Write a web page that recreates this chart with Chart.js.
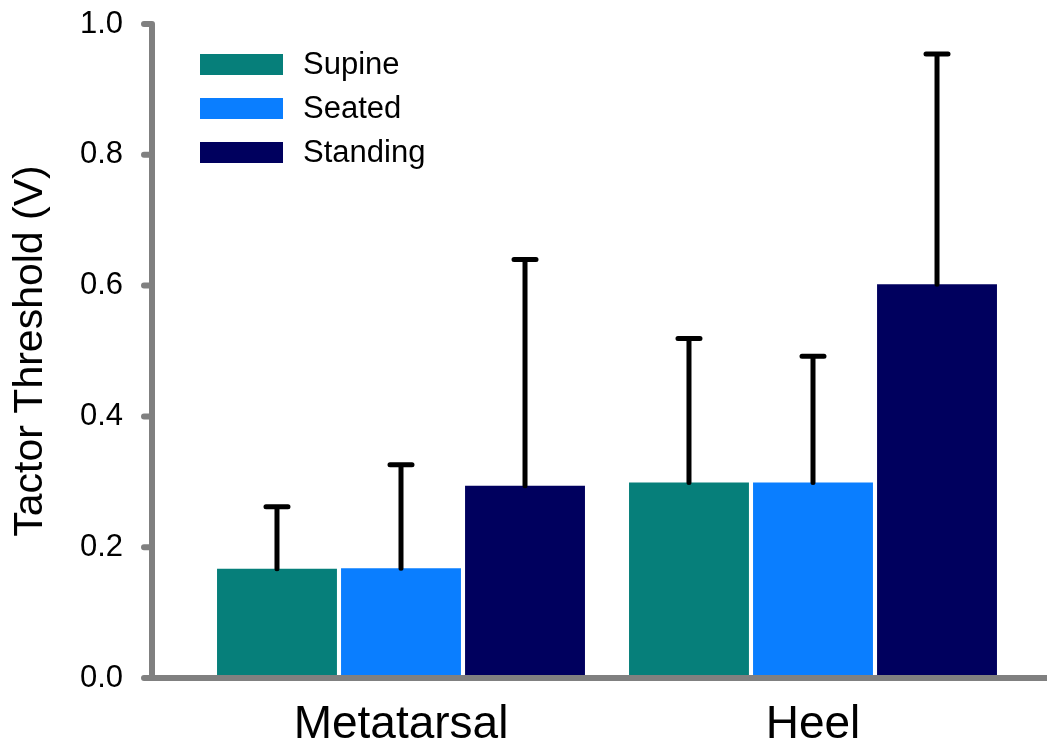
<!DOCTYPE html>
<html>
<head>
<meta charset="utf-8">
<script src="https://cdn.jsdelivr.net/npm/chart.js@4"></script>
<style>
  html, body { margin: 0; padding: 0; background: #fff; }
  #wrap { width: 1047px; height: 742px; }
</style>
</head>
<body>
<div id="wrap"><canvas id="chart" width="1047" height="742"></canvas></div>
<script>
// values
const sites = ['Metatarsal', 'Heel'];
const positions = ['Supine', 'Seated', 'Standing'];
const supine = [0.167, 0.299];
const seated = [0.168, 0.299];
const standing = [0.294, 0.602];
// upper error (SD) above each bar
const supineSD = [0.095, 0.220];
const seatedSD = [0.158, 0.193];
const standingSD = [0.346, 0.352];
const yTicks = [0, 0.2, 0.4, 0.6, 0.8, 1.0];

const colors = ['#067f7a', '#0a7eff', '#00005e'];
const axisGray = '#808080';
const FONT = 'Liberation Sans, Arial, sans-serif';

// error bars, only upward with a cap
const errorBars = {
  id: 'errorBars',
  afterDatasetsDraw(chart) {
    const ctx = chart.ctx;
    const y = chart.scales.y;
    ctx.save();
    ctx.strokeStyle = '#000';
    ctx.lineWidth = 5;
    ctx.lineCap = 'round';
    chart.data.datasets.forEach((ds, i) => {
      const meta = chart.getDatasetMeta(i);
      meta.data.forEach((bar, j) => {
        const top = y.getPixelForValue(ds.data[j] + ds.sd[j]);
        ctx.beginPath();
        ctx.moveTo(bar.x, bar.y);
        ctx.lineTo(bar.x, top);
        ctx.moveTo(bar.x - 11, top);
        ctx.lineTo(bar.x + 11, top);
        ctx.stroke();
      });
    });
    ctx.restore();
  }
};

// gray axes drawn a bit left of the plot, as in the original
const axesLines = {
  id: 'axesLines',
  afterDraw(chart) {
    const ctx = chart.ctx;
    const a = chart.chartArea;
    const y = chart.scales.y;
    const ax = a.left - 43;
    ctx.save();
    ctx.strokeStyle = axisGray;
    ctx.lineWidth = 6;
    ctx.lineCap = 'round';
    ctx.beginPath();
    ctx.moveTo(ax, a.top);
    ctx.lineTo(ax, a.bottom);
    ctx.moveTo(ax - 5, a.bottom);
    ctx.lineTo(chart.width + 5, a.bottom);
    yTicks.forEach(v => {
      const py = y.getPixelForValue(v);
      ctx.moveTo(ax - 8, py);
      ctx.lineTo(ax, py);
    });
    ctx.stroke();

    // legend
    ctx.font = '31px ' + FONT;
    ctx.textBaseline = 'middle';
    ctx.textAlign = 'left';
    chart.data.datasets.forEach((ds, i) => {
      const cy = 64 + i * 44;
      ctx.fillStyle = ds.backgroundColor;
      ctx.fillRect(200, cy - 10, 83, 21);
      ctx.fillStyle = '#000';
      ctx.fillText(ds.label, 303, cy + 1);
    });
    ctx.restore();
  }
};

const seriesValues = [supine, seated, standing];
const seriesSD = [supineSD, seatedSD, standingSD];

new Chart(document.getElementById('chart'), {
  type: 'bar',
  data: {
    labels: sites,
    datasets: positions.map((p, i) => ({
      label: p,
      data: seriesValues[i],
      sd: seriesSD[i],
      backgroundColor: colors[i],
      borderWidth: 0,
      categoryPercentage: 0.903,
      barPercentage: 0.967
    }))
  },
  options: {
    responsive: false,
    animation: false,
    layout: { padding: { top: 24, right: 28, left: 0, bottom: 0 } },
    plugins: {
      legend: { display: false },
      tooltip: { enabled: false }
    },
    scales: {
      x: {
        grid: { display: false, drawTicks: false },
        border: { display: false },
        ticks: { color: '#000', font: { family: FONT, size: 46 }, padding: 20 },
        afterFit(scale) {
          scale.height = 64;
          scale.paddingLeft = 0;
          scale.paddingRight = 0;
        }
      },
      y: {
        min: 0,
        max: 1,
        grid: { display: false, drawTicks: false },
        border: { display: false },
        ticks: {
          stepSize: 0.2,
          color: '#000',
          padding: 72,
          font: { family: FONT, size: 31 },
          callback: v => v.toFixed(1)
        },
        title: {
          display: true,
          text: 'Tactor Threshold (V)',
          color: '#000',
          font: { family: FONT, size: 41 },
          padding: { top: 6, bottom: 0 }
        },
        afterFit(scale) {
          scale.width = 195;
          scale.paddingTop = 0;
          scale.paddingBottom = 0;
        }
      }
    }
  },
  plugins: [errorBars, axesLines]
});
</script>
</body>
</html>
